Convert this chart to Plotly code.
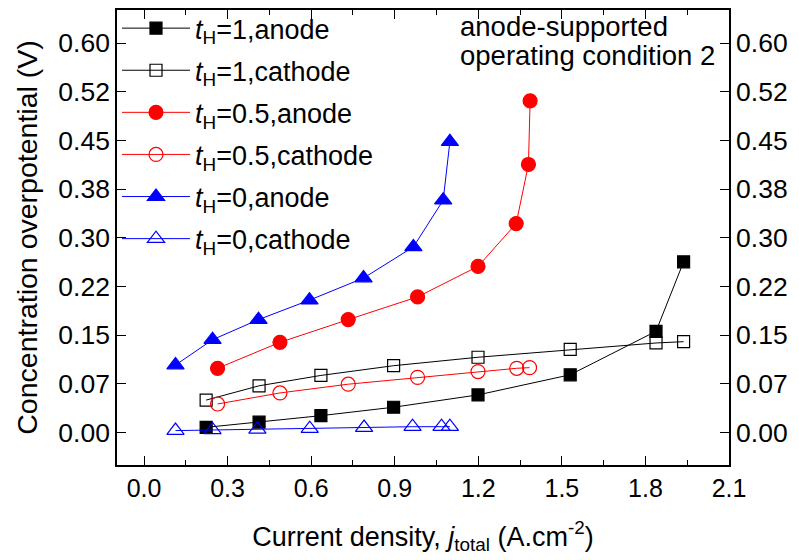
import plotly.graph_objects as go

# Concentration overpotential vs. current density (anode-supported cell, operating condition 2)
j_h1_anode = [0.223, 0.413, 0.635, 0.896, 1.199, 1.530, 1.838, 1.937]
eta_h1_anode = [0.008, 0.016, 0.026, 0.039, 0.058, 0.089, 0.156, 0.263]

j_h1_cathode = [0.223, 0.413, 0.635, 0.896, 1.199, 1.530, 1.838, 1.937]
eta_h1_cathode = [0.050, 0.072, 0.088, 0.103, 0.116, 0.128, 0.138, 0.140]

j_h05_anode = [0.264, 0.488, 0.733, 0.982, 1.199, 1.336, 1.380, 1.386]
eta_h05_anode = [0.099, 0.139, 0.174, 0.209, 0.256, 0.322, 0.413, 0.511]

j_h05_cathode = [0.264, 0.488, 0.733, 0.982, 1.199, 1.338, 1.384]
eta_h05_cathode = [0.044, 0.061, 0.0745, 0.085, 0.094, 0.099, 0.100]

j_h0_anode = [0.113, 0.246, 0.411, 0.594, 0.788, 0.967, 1.074, 1.098]
eta_h0_anode = [0.104, 0.143, 0.174, 0.204, 0.238, 0.286, 0.358, 0.448]

j_h0_cathode = [0.113, 0.246, 0.407, 0.595, 0.790, 0.964, 1.068, 1.098]
eta_h0_cathode = [0.003, 0.004, 0.005, 0.006, 0.0077, 0.009, 0.009, 0.009]

x_ticks = [0.0, 0.3, 0.6, 0.9, 1.2, 1.5, 1.8, 2.1]
x_tick_labels = ["0.0", "0.3", "0.6", "0.9", "1.2", "1.5", "1.8", "2.1"]
y_ticks = [0.0, 0.075, 0.15, 0.225, 0.3, 0.375, 0.45, 0.525, 0.6]
y_tick_labels = ["0.00", "0.07", "0.15", "0.22", "0.30", "0.38", "0.45", "0.52", "0.60"]

FONT = "Liberation Sans, Arial, sans-serif"

series = [
    (j_h1_anode, eta_h1_anode, "<i>t</i><sub>H</sub>=1,anode", "black", "square", 12),
    (j_h1_cathode, eta_h1_cathode, "<i>t</i><sub>H</sub>=1,cathode", "black", "square-open", 12),
    (j_h05_anode, eta_h05_anode, "<i>t</i><sub>H</sub>=0.5,anode", "red", "circle", 14),
    (j_h05_cathode, eta_h05_cathode, "<i>t</i><sub>H</sub>=0.5,cathode", "red", "circle-open", 14),
    (j_h0_anode, eta_h0_anode, "<i>t</i><sub>H</sub>=0,anode", "blue", "triangle-up", 15),
    (j_h0_cathode, eta_h0_cathode, "<i>t</i><sub>H</sub>=0,cathode", "blue", "triangle-up-open", 15),
]

fig = go.Figure()
for i, (x, y, name, color, symbol, size) in enumerate(series):
    fig.add_trace(go.Scatter(
        x=x, y=y, name=name, mode="lines+markers",
        legendgroup=f"g{i}",
        line=dict(color=color, width=1),
        marker=dict(symbol=symbol, size=size, color=color,
                    line=dict(color=color, width=1.2)),
    ))

# mirrored right-hand axis carrying its own labels
fig.add_trace(go.Scatter(x=[None], y=[None], yaxis="y2", showlegend=False,
                         hoverinfo="skip"))

y_range = [-0.05, 0.651]
axis_common = dict(showline=True, linecolor="black", linewidth=1.5,
                   ticks="inside", ticklen=9, tickwidth=1.2, tickcolor="black",
                   showgrid=False, zeroline=False)
y_tickfont = dict(family=FONT, size=26.5, color="black")

fig.update_layout(
    width=799, height=560,
    margin=dict(l=117, r=70, t=10, b=95, autoexpand=False),
    plot_bgcolor="white", paper_bgcolor="white",
    font=dict(family=FONT, color="black"),
    xaxis=dict(range=[-0.097, 2.1], tickvals=x_ticks, ticktext=x_tick_labels,
               mirror="ticks",
               tickfont=dict(family=FONT, size=25, color="black"),
               minor=dict(dtick=0.15, tick0=0, ticks="inside", ticklen=5,
                          tickcolor="black", tickwidth=1.2),
               title=dict(text="Current density, <i>j</i><sub>total</sub> (A.cm<sup>-2</sup>)",
                          font=dict(family=FONT, size=27), standoff=26),
               **axis_common),
    yaxis=dict(range=y_range, tickvals=y_ticks, ticktext=y_tick_labels,
               mirror=False, tickfont=y_tickfont,
               title=dict(text="Concentration overpotential (V)",
                          font=dict(family=FONT, size=28.5), standoff=12),
               **axis_common),
    yaxis2=dict(range=y_range, tickvals=y_ticks, ticktext=y_tick_labels,
                overlaying="y", side="right", tickfont=y_tickfont,
                **axis_common),
    legend=dict(x=0.0, y=1.013, xanchor="left", yanchor="top",
                bgcolor="rgba(0,0,0,0)", borderwidth=0,
                font=dict(family=FONT, size=27, color="black"),
                itemwidth=68, tracegroupgap=4, traceorder="grouped"),
    showlegend=True,
)

fig.add_annotation(text="anode-supported", xref="paper", yref="paper",
                   x=0.558, y=0.964, xanchor="left", yanchor="middle",
                   showarrow=False, font=dict(family=FONT, size=27.5, color="black"))
fig.add_annotation(text="operating condition 2", xref="paper", yref="paper",
                   x=0.558, y=0.9, xanchor="left", yanchor="middle",
                   showarrow=False, font=dict(family=FONT, size=27.5, color="black"))

fig.write_html("out.html")
